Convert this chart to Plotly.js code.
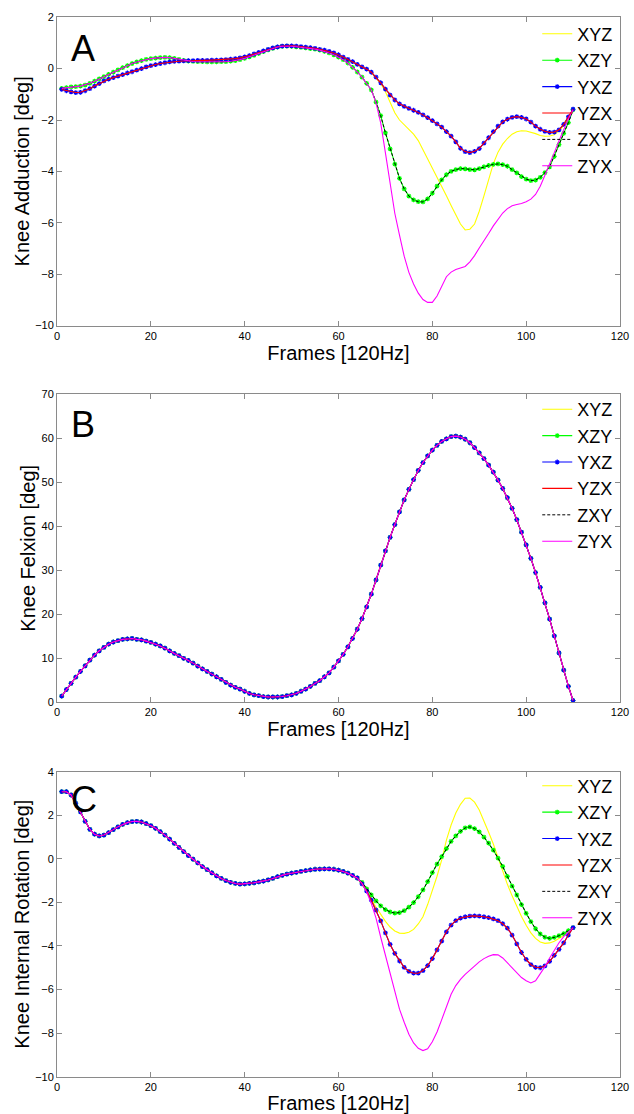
<!DOCTYPE html>
<html>
<head>
<meta charset="utf-8">
<script src="https://cdn.plot.ly/plotly-3.0.1.min.js"></script>
<style>html,body{margin:0;padding:0;background:#fff;}#chart{width:634px;height:1114px;}</style>
</head>
<body>
<div id="chart"></div>
<script>
// Frame index 1..110
const frames = Array.from({length: 110}, (_, i) => i + 1);
const seriesNames = ['XYZ', 'XZY', 'YXZ', 'YZX', 'ZXY', 'ZYX'];

// ---- Panel A: Knee Adduction [deg] ----
const adductionXYZ = [-0.81,-0.86,-0.90,-0.93,-0.92,-0.86,-0.78,-0.68,-0.58,-0.48,
 -0.41,-0.35,-0.29,-0.23,-0.17,-0.12,-0.06,0.00,0.07,0.12,
 0.16,0.20,0.23,0.26,0.28,0.29,0.30,0.31,0.31,0.32,
 0.32,0.32,0.33,0.33,0.34,0.35,0.37,0.39,0.42,0.46,
 0.51,0.57,0.63,0.69,0.75,0.81,0.85,0.88,0.89,0.89,
 0.88,0.86,0.84,0.82,0.79,0.75,0.72,0.67,0.61,0.54,
 0.45,0.36,0.27,0.17,0.07,-0.02,-0.16,-0.38,-0.58,-0.90,
 -1.30,-1.72,-2.00,-2.18,-2.34,-2.55,-2.80,-3.15,-3.50,-3.88,
 -4.25,-4.60,-4.95,-5.33,-5.70,-6.05,-6.28,-6.25,-6.05,-5.55,
 -4.95,-4.35,-3.70,-3.25,-2.94,-2.72,-2.55,-2.46,-2.42,-2.43,
 -2.47,-2.53,-2.60,-2.63,-2.62,-2.57,-2.42,-2.22,-1.95,-1.60];
const adductionXZY = [-0.77,-0.74,-0.71,-0.70,-0.68,-0.64,-0.57,-0.49,-0.40,-0.31,
 -0.22,-0.14,-0.05,0.04,0.12,0.20,0.26,0.31,0.36,0.39,
 0.41,0.43,0.44,0.43,0.40,0.36,0.32,0.29,0.28,0.27,
 0.27,0.26,0.26,0.26,0.27,0.27,0.29,0.31,0.35,0.40,
 0.46,0.52,0.59,0.66,0.73,0.79,0.84,0.87,0.88,0.87,
 0.85,0.83,0.81,0.78,0.76,0.72,0.67,0.61,0.54,0.45,
 0.35,0.22,0.05,-0.13,-0.33,-0.57,-0.83,-1.30,-1.83,-2.50,
 -3.12,-3.72,-4.27,-4.68,-4.96,-5.11,-5.18,-5.19,-5.07,-4.85,
 -4.57,-4.33,-4.13,-4.00,-3.93,-3.89,-3.90,-3.93,-3.94,-3.89,
 -3.82,-3.77,-3.73,-3.71,-3.74,-3.80,-3.93,-4.06,-4.20,-4.30,
 -4.36,-4.34,-4.23,-4.05,-3.82,-3.42,-2.96,-2.52,-2.10,-1.60];
const adductionYXZ = [-0.81,-0.86,-0.90,-0.93,-0.92,-0.86,-0.78,-0.68,-0.58,-0.48,
 -0.41,-0.35,-0.29,-0.23,-0.17,-0.12,-0.06,0.00,0.07,0.12,
 0.16,0.20,0.23,0.26,0.28,0.29,0.30,0.31,0.31,0.32,
 0.32,0.32,0.33,0.33,0.34,0.35,0.37,0.39,0.42,0.46,
 0.51,0.57,0.63,0.69,0.75,0.81,0.85,0.88,0.89,0.89,
 0.88,0.86,0.84,0.82,0.79,0.75,0.72,0.67,0.61,0.54,
 0.45,0.36,0.27,0.17,0.07,-0.02,-0.14,-0.33,-0.55,-0.80,
 -1.03,-1.22,-1.37,-1.47,-1.55,-1.62,-1.70,-1.80,-1.91,-2.02,
 -2.15,-2.28,-2.45,-2.63,-2.85,-3.10,-3.23,-3.27,-3.22,-3.11,
 -2.90,-2.69,-2.45,-2.24,-2.07,-1.97,-1.90,-1.87,-1.90,-1.96,
 -2.08,-2.24,-2.36,-2.44,-2.48,-2.47,-2.38,-2.17,-1.88,-1.58];
const adductionYZX = adductionYXZ;   // overlaps YXZ in the figure
const adductionZXY = adductionXZY;   // overlaps XZY in the figure
const adductionZYX = [-0.77,-0.74,-0.71,-0.70,-0.68,-0.64,-0.57,-0.49,-0.40,-0.31,
 -0.22,-0.14,-0.05,0.04,0.12,0.20,0.26,0.31,0.36,0.39,
 0.41,0.43,0.44,0.43,0.40,0.36,0.32,0.29,0.28,0.27,
 0.27,0.26,0.26,0.26,0.27,0.27,0.29,0.31,0.35,0.40,
 0.46,0.52,0.59,0.66,0.73,0.79,0.84,0.87,0.88,0.87,
 0.85,0.83,0.81,0.78,0.76,0.72,0.67,0.61,0.54,0.45,
 0.35,0.22,0.05,-0.13,-0.33,-0.57,-0.83,-1.33,-2.12,-3.28,
 -4.50,-5.63,-6.48,-7.30,-7.93,-8.38,-8.74,-8.99,-9.10,-9.10,
 -8.85,-8.48,-8.10,-7.92,-7.82,-7.76,-7.70,-7.52,-7.28,-6.98,
 -6.72,-6.42,-6.12,-5.86,-5.62,-5.45,-5.34,-5.29,-5.25,-5.18,
 -5.08,-4.90,-4.58,-4.15,-3.73,-3.27,-2.81,-2.35,-1.95,-1.60];

// ---- Panel B: Knee Flexion [deg] (all six sequences coincide) ----
const flexion = [1.4,2.9,4.3,5.7,7.0,8.3,9.6,10.7,11.7,12.5,
 13.2,13.7,14.0,14.3,14.4,14.5,14.3,14.2,13.9,13.6,
 13.2,12.8,12.3,11.7,11.1,10.6,10.0,9.5,8.9,8.2,
 7.6,7.0,6.4,5.8,5.2,4.5,3.9,3.4,3.0,2.5,
 2.0,1.7,1.5,1.3,1.2,1.2,1.2,1.3,1.5,1.7,
 2.0,2.5,3.0,3.6,4.3,4.9,5.8,6.7,8.0,9.4,
 10.9,12.6,14.5,16.6,19.0,21.7,24.6,27.8,31.2,34.4,
 37.5,40.4,43.3,46.0,48.4,50.6,52.7,54.5,56.0,57.3,
 58.4,59.3,59.9,60.4,60.5,60.3,59.8,59.0,57.9,56.7,
 55.4,53.9,52.3,50.5,48.6,46.5,44.1,41.5,38.7,35.8,
 32.7,29.5,26.1,22.6,18.9,15.1,11.2,7.3,3.6,0.4];

// ---- Panel C: Knee Internal Rotation [deg] ----
const rotationEarly = [3.08,3.08,2.93,2.55,2.16,1.72,1.35,1.13,1.05,1.09,
 1.20,1.34,1.47,1.58,1.66,1.71,1.72,1.69,1.62,1.52,
 1.40,1.25,1.09,0.90,0.71,0.52,0.33,0.15,-0.02,-0.19,
 -0.36,-0.50,-0.64,-0.78,-0.90,-1.00,-1.08,-1.13,-1.16,-1.15,
 -1.13,-1.10,-1.06,-1.02,-0.97,-0.90,-0.82,-0.76,-0.70,-0.66,
 -0.62,-0.58,-0.54,-0.51,-0.48,-0.47,-0.46,-0.46,-0.48,-0.52,
 -0.58,-0.66,-0.76,-0.88];
const rotationXYZLate = [-1.10,-1.45,-1.85,-2.22,-2.55,-2.87,
 -3.13,-3.31,-3.41,-3.42,-3.37,-3.24,-2.99,-2.66,-2.10,-1.50,
 -0.80,-0.05,0.86,1.55,2.10,2.50,2.78,2.79,2.60,2.24,
 1.75,1.22,0.68,0.06,-0.60,-1.17,-1.70,-2.20,-2.65,-3.05,
 -3.40,-3.65,-3.82,-3.88,-3.86,-3.78,-3.66,-3.52,-3.35,-3.16];
const rotationXZYLate = [-1.08,-1.38,-1.66,-1.93,-2.16,-2.33,
 -2.44,-2.49,-2.47,-2.38,-2.22,-2.01,-1.74,-1.43,-1.05,-0.63,
 -0.24,0.10,0.47,0.80,1.05,1.26,1.42,1.47,1.39,1.24,
 1.00,0.72,0.40,0.03,-0.35,-0.81,-1.25,-1.66,-2.10,-2.50,
 -2.88,-3.21,-3.45,-3.60,-3.65,-3.61,-3.53,-3.43,-3.30,-3.16];
const rotationYXZLate = [-1.15,-1.48,-1.90,-2.35,-2.85,-3.40,
 -3.93,-4.34,-4.69,-4.98,-5.17,-5.25,-5.25,-5.13,-4.90,-4.58,
 -4.18,-3.78,-3.35,-3.04,-2.84,-2.72,-2.66,-2.63,-2.62,-2.63,
 -2.66,-2.70,-2.76,-2.84,-2.98,-3.18,-3.50,-3.90,-4.30,-4.62,
 -4.86,-4.98,-5.00,-4.91,-4.71,-4.43,-4.16,-3.86,-3.50,-3.16];
const rotationZYXLate = [-1.12,-1.52,-2.05,-2.72,-3.60,-4.45,
 -5.30,-6.15,-6.90,-7.50,-8.05,-8.45,-8.70,-8.80,-8.72,-8.40,
 -7.95,-7.38,-6.80,-6.22,-5.82,-5.53,-5.30,-5.10,-4.90,-4.73,
 -4.58,-4.47,-4.40,-4.41,-4.55,-4.78,-5.02,-5.25,-5.45,-5.60,
 -5.70,-5.60,-5.30,-4.95,-4.55,-4.18,-3.85,-3.57,-3.35,-3.16];
const rotationXYZ = rotationEarly.concat(rotationXYZLate);
const rotationXZY = rotationEarly.concat(rotationXZYLate);
const rotationYXZ = rotationEarly.concat(rotationYXZLate);
const rotationYZX = rotationYXZ;
const rotationZXY = rotationXZY;
const rotationZYX = rotationEarly.concat(rotationZYXLate);

// ---- Styling ----
const FONT = 'Arial, "Liberation Sans", Helvetica, sans-serif';
const styles = {
  XYZ: {mode: 'lines', line: {color: '#ffff00', width: 1.1}},
  XZY: {mode: 'lines+markers', line: {color: '#00ff00', width: 1.1},
        marker: {symbol: 'asterisk-open', size: 4, color: '#00ff00', line: {color: '#00ff00', width: 1.2}}},
  YXZ: {mode: 'lines+markers', line: {color: '#0000ff', width: 1.1},
        marker: {symbol: 'asterisk-open', size: 4, color: '#0000ff', line: {color: '#0000ff', width: 1.2}}},
  YZX: {mode: 'lines', line: {color: '#ff0000', width: 1.1}},
  ZXY: {mode: 'lines', line: {color: '#000000', width: 1.0, dash: '3px,2px'}},
  ZYX: {mode: 'lines', line: {color: '#ff00ff', width: 1.1}}
};

const panels = [
  {ax: '', legend: 'legend', data: [adductionXYZ, adductionXZY, adductionYXZ, adductionYZX, adductionZXY, adductionZYX]},
  {ax: '2', legend: 'legend2', data: [flexion, flexion, flexion, flexion, flexion, flexion]},
  {ax: '3', legend: 'legend3', data: [rotationXYZ, rotationXZY, rotationYXZ, rotationYZX, rotationZXY, rotationZYX]}
];

const traces = [];
panels.forEach(p => {
  seriesNames.forEach((name, i) => {
    traces.push(Object.assign({
      type: 'scatter', x: frames, y: p.data[i], name: name,
      xaxis: 'x' + p.ax, yaxis: 'y' + p.ax, legend: p.legend,
      hoverinfo: 'skip'
    }, JSON.parse(JSON.stringify(styles[name]))));
  });
});

function xAxis(anchor) {
  return {
    domain: [0, 1], anchor: anchor, range: [0, 120], tick0: 0, dtick: 20,
    ticks: 'inside', ticklen: 5, tickcolor: '#8a8a8a', tickwidth: 1,
    showline: true, linecolor: '#8a8a8a', linewidth: 1, mirror: 'ticks',
    showgrid: false, zeroline: false,
    tickfont: {family: FONT, size: 11, color: '#000'},
    title: {text: 'Frames [120Hz]', font: {family: FONT, size: 20, color: '#000'}, standoff: 0}
  };
}
function yAxis(anchor, domain, range, dtick, title) {
  return {
    domain: domain, anchor: anchor, range: range, dtick: dtick, tick0: 0,
    ticks: 'inside', ticklen: 5, tickcolor: '#8a8a8a', tickwidth: 1,
    showline: true, linecolor: '#8a8a8a', linewidth: 1, mirror: 'ticks',
    showgrid: false, zeroline: false,
    tickfont: {family: FONT, size: 11, color: '#000'},
    title: {text: title, font: {family: FONT, size: 20, color: '#000'}, standoff: 0}
  };
}
function legendAt(y) {
  return {x: 0.853, xanchor: 'left', y: y, yanchor: 'top', bgcolor: 'rgba(0,0,0,0)',
          borderwidth: 0, font: {family: FONT, size: 18, color: '#000'}, tracegroupgap: 0};
}

const layout = {
  width: 634, height: 1114, autosize: false,
  margin: {l: 57, r: 14, t: 0, b: 0},
  paper_bgcolor: '#fff', plot_bgcolor: '#fff',
  showlegend: true,
  font: {family: FONT, color: '#000'},
  xaxis: xAxis('y'),
  yaxis: yAxis('x', [0.7078, 0.9845], [-10, 2], 2, 'Knee Adduction [deg]'),
  xaxis2: xAxis('y2'),
  yaxis2: yAxis('x2', [0.3696, 0.6460], [0, 70], 10, 'Knee Felxion [deg]'),
  xaxis3: xAxis('y3'),
  yaxis3: yAxis('x3', [0.0335, 0.3073], [-10, 4], 2, 'Knee Internal Rotation [deg]'),
  legend: legendAt(0.986),
  legend2: legendAt(0.649),
  legend3: legendAt(0.311),
  annotations: [
    {text: 'A', xref: 'x domain', yref: 'y domain', x: 0.022, y: 0.90, xanchor: 'left', yanchor: 'middle', showarrow: false, font: {family: FONT, size: 36, color: '#000'}},
    {text: 'B', xref: 'x2 domain', yref: 'y2 domain', x: 0.022, y: 0.903, xanchor: 'left', yanchor: 'middle', showarrow: false, font: {family: FONT, size: 36, color: '#000'}},
    {text: 'C', xref: 'x3 domain', yref: 'y3 domain', x: 0.022, y: 0.91, xanchor: 'left', yanchor: 'middle', showarrow: false, font: {family: FONT, size: 36, color: '#000'}}
  ]
};

Plotly.newPlot('chart', traces, layout, {staticPlot: true, displayModeBar: false});
</script>
</body>
</html>
